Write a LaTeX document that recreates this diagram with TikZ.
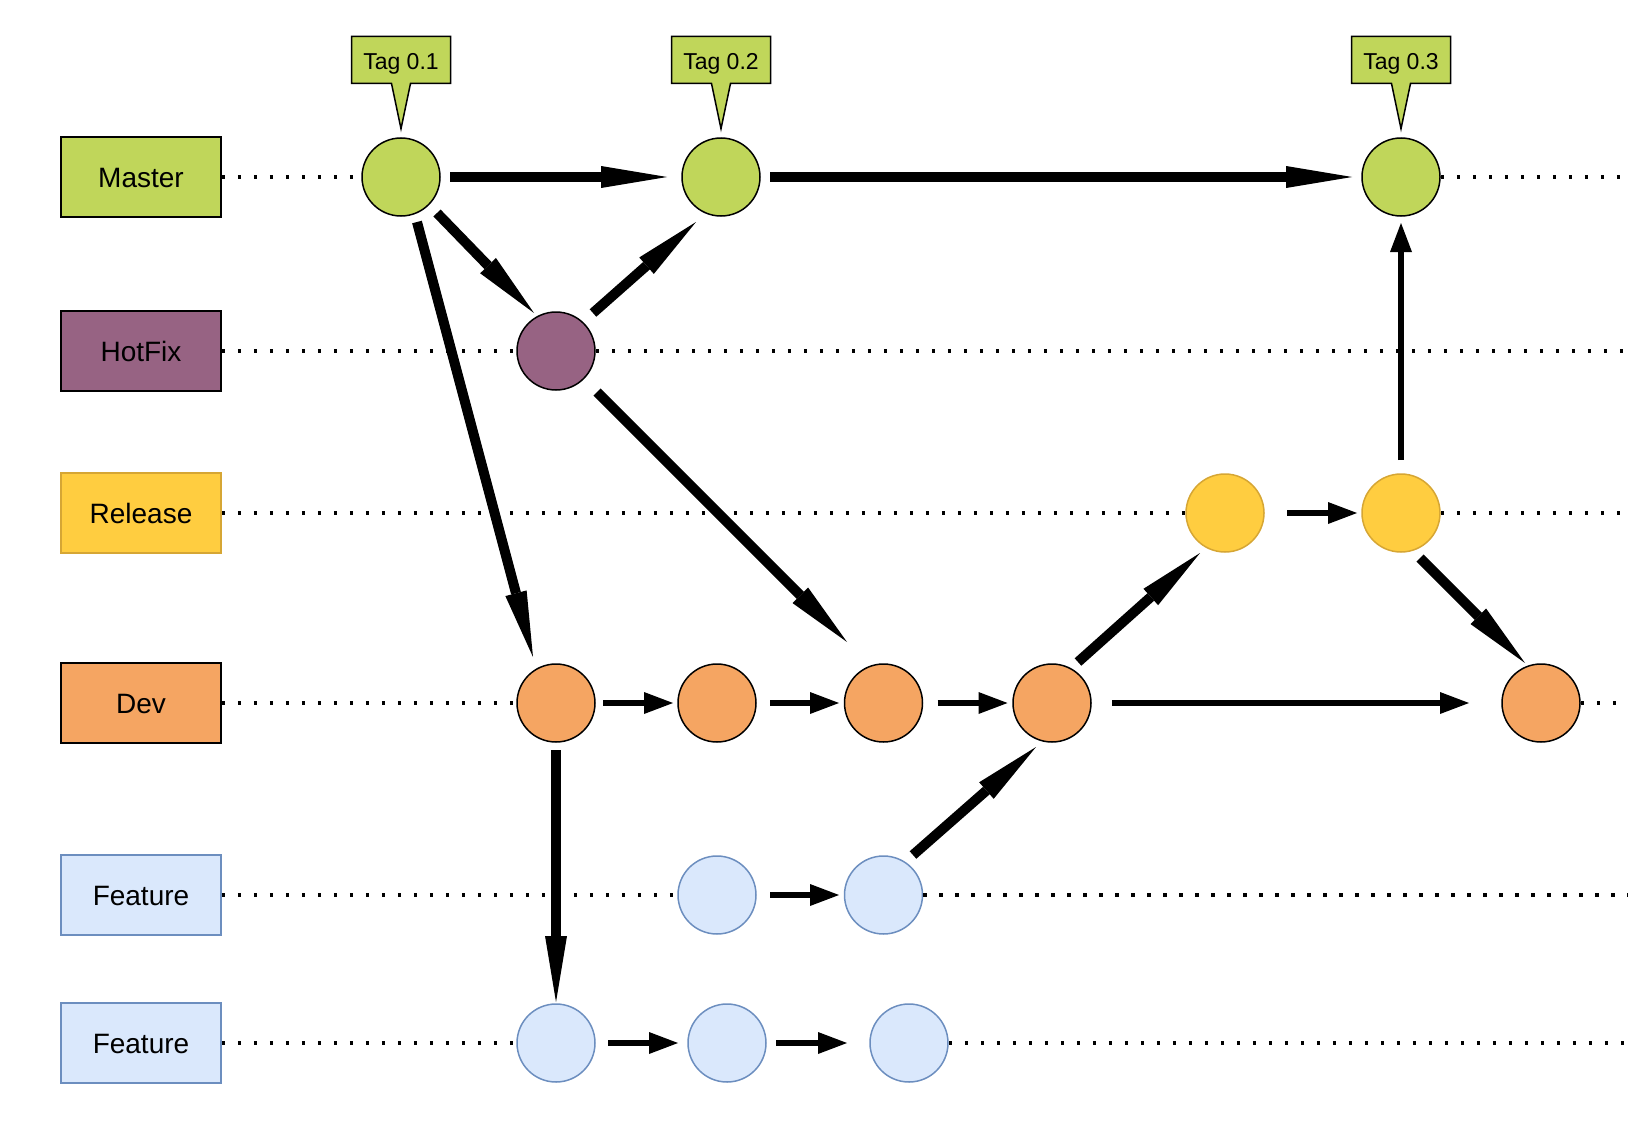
\documentclass[tikz,border=0pt]{standalone}
\usepackage{fontspec}
\setmainfont{Liberation Sans}
\usetikzlibrary{arrows.meta,shapes.callouts}

\definecolor{mgreen}{RGB}{192,214,90}
\definecolor{hpurple}{RGB}{151,99,131}
\definecolor{ryellow}{RGB}{255,205,64}
\definecolor{rborder}{RGB}{214,166,52}
\definecolor{dorange}{RGB}{245,165,98}
\definecolor{ffill}{RGB}{218,232,252}
\definecolor{fborder}{RGB}{108,142,191}

\tikzset{
  lane/.style={draw, line width=1.5pt, minimum width=160pt, minimum height=80pt,
    inner sep=0pt, text height=22pt, font=\fontsize{28}{30}\selectfont},
  commit/.style={circle, draw, line width=1.5pt, minimum size=78pt, inner sep=0pt},
  tagbox/.style={rectangle callout, draw, fill=mgreen, line width=1.5pt,
    minimum width=99pt, minimum height=47pt, inner sep=0pt, text height=24pt,
    callout pointer width=19pt, font=\fontsize{23}{25}\selectfont},
  dots/.style={line width=3.5pt, dash pattern=on 3.5pt off 12.5pt},
  bigarrow/.style={line width=10pt, -{Triangle[length=66pt,width=22pt,line width=0pt]}},
  smallarrow/.style={line width=6pt, -{Triangle[length=29pt,width=22pt,line width=0pt]}},
}

\begin{document}
\begin{tikzpicture}[x=1pt,y=-1pt]
\useasboundingbox (0,0) rectangle (1628,1148);

% branch labels
\node[lane, fill=mgreen] (lmaster) at (141,177) {Master};
\node[lane, fill=hpurple] (lhotfix) at (141,351) {HotFix};
\node[lane, fill=ryellow, draw=rborder] (lrelease) at (141,513) {Release};
\node[lane, fill=dorange] (ldev) at (141,703) {Dev};
\node[lane, fill=ffill, draw=fborder] (lfeat) at (141,895) {Feature};
\node[lane, fill=ffill, draw=fborder] (lfeatb) at (141,1043) {Feature};

% commits
\node[commit, fill=mgreen] (m1) at (401,177) {};
\node[commit, fill=mgreen] (m2) at (721,177) {};
\node[commit, fill=mgreen] (m3) at (1401,177) {};
\node[commit, fill=hpurple] (h1) at (556,351) {};
\node[commit, fill=ryellow, draw=rborder] (r1) at (1225,513) {};
\node[commit, fill=ryellow, draw=rborder] (r2) at (1401,513) {};
\node[commit, fill=dorange] (d1) at (556,703) {};
\node[commit, fill=dorange] (d2) at (717,703) {};
\node[commit, fill=dorange] (d3) at (883.5,703) {};
\node[commit, fill=dorange] (d4) at (1052,703) {};
\node[commit, fill=dorange] (d5) at (1541,703) {};
\node[commit, fill=ffill, draw=fborder] (fa1) at (717,895) {};
\node[commit, fill=ffill, draw=fborder] (fa2) at (883.5,895) {};
\node[commit, fill=ffill, draw=fborder] (fb1) at (556,1043) {};
\node[commit, fill=ffill, draw=fborder] (fb2) at (727,1043) {};
\node[commit, fill=ffill, draw=fborder] (fb3) at (909,1043) {};

% tags
\node[tagbox, callout absolute pointer={([yshift=8.5pt]m1.north)}] (t1) at (401,60) {Tag 0.1};
\node[tagbox, callout absolute pointer={([yshift=8.5pt]m2.north)}] (t2) at (721,60) {Tag 0.2};
\node[tagbox, callout absolute pointer={([yshift=8.5pt]m3.north)}] (t3) at (1401,60) {Tag 0.3};

% lane ends at the right margin
\coordinate (emaster) at (1628,177);
\coordinate (ehotfix) at (1628,351);
\coordinate (erelease) at (1628,513);
\coordinate (edev) at (1628,703);
\coordinate (efeat) at (1628,895);
\coordinate (efeatb) at (1628,1043);

% dotted lanes
\draw[dots] (lmaster.east) -- (m1.west);
\draw[dots] (m3.east) -- (emaster);
\draw[dots] (lhotfix.east) -- (h1.west);
\draw[dots] (h1.east) -- (ehotfix);
\draw[dots] (lrelease.east) -- (r1.west);
\draw[dots] (r2.east) -- (erelease);
\draw[dots] (ldev.east) -- (d1.west);
\draw[dots] (d5.east) -- (edev);
\draw[dots] (lfeat.east) -- (fa1.west);
\draw[dots] (fa2.east) -- (efeat);
\draw[dots] (lfeatb.east) -- (fb1.west);
\draw[dots] (fb3.east) -- (efeatb);

% merges and branches
\draw[bigarrow] ([shift={(49,0)}]m1.center) -- ([shift={(-54,0)}]m2.center);
\draw[bigarrow] ([shift={(49,0)}]m2.center) -- ([shift={(-49,0)}]m3.center);
\draw[bigarrow] ([shift={(36,36)}]m1.center) -- ([shift={(-22,-38)}]h1.center);
\draw[bigarrow] ([shift={(37,-38)}]h1.center) -- ([shift={(-25,45)}]m2.center);
\draw[bigarrow] ([shift={(16,45)}]m1.center) -- ([shift={(-23,-46)}]d1.center);
\draw[bigarrow] ([shift={(41,41)}]h1.center) -- ([shift={(-36.5,-61)}]d3.center);
\draw[bigarrow] ([shift={(0,47)}]d1.center) -- ([shift={(0,-41)}]fb1.center);
\draw[bigarrow] ([shift={(29.5,-40)}]fa2.center) -- ([shift={(-16,44)}]d4.center);
\draw[bigarrow] ([shift={(26,-41)}]d4.center) -- ([shift={(-25,40)}]r1.center);
\draw[bigarrow] ([shift={(19,45)}]r2.center) -- ([shift={(-16,-40)}]d5.center);

% commits along a branch
\draw[smallarrow] ([shift={(47,0)}]d1.center) -- ([shift={(-44,0)}]d2.center);
\draw[smallarrow] ([shift={(53,0)}]d2.center) -- ([shift={(-44.5,0)}]d3.center);
\draw[smallarrow] ([shift={(54,0)}]d3.center) -- ([shift={(-44.5,0)}]d4.center);
\draw[smallarrow] ([shift={(60,0)}]d4.center) -- ([shift={(-72,0)}]d5.center);
\draw[smallarrow] ([shift={(53,0)}]fa1.center) -- ([shift={(-44.5,0)}]fa2.center);
\draw[smallarrow] ([shift={(52,0)}]fb1.center) -- ([shift={(-49,0)}]fb2.center);
\draw[smallarrow] ([shift={(49,0)}]fb2.center) -- ([shift={(-62,0)}]fb3.center);
\draw[smallarrow] ([shift={(62,0)}]r1.center) -- ([shift={(-44,0)}]r2.center);
\draw[smallarrow] ([shift={(0,-53)}]r2.center) -- ([shift={(0,46)}]m3.center);
\end{tikzpicture}
\end{document}
